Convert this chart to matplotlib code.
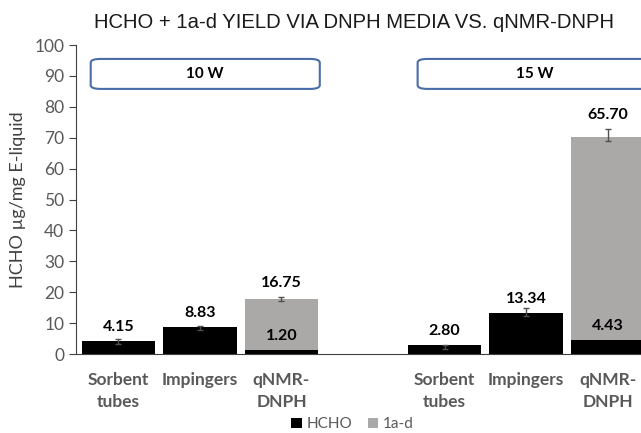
import matplotlib
matplotlib.use("Agg")
import matplotlib.pyplot as plt
from matplotlib.patches import FancyBboxPatch
import numpy as np

# data
categories = ["Sorbent\ntubes", "Impingers", "qNMR-\nDNPH",
              "Sorbent\ntubes", "Impingers", "qNMR-\nDNPH"]
positions = [0, 1, 2, 4, 5, 6]
hcho = [4.15, 8.83, 1.20, 2.80, 13.34, 4.43]
adducts = [0, 0, 16.75, 0, 0, 65.70]
err_low = [0.9, 1.0, 0.75, 1.1, 0.95, 1.2]
err_high = [0.65, 0.3, 0.55, 0.2, 1.45, 2.7]
groups = ["10 W", "15 W"]
group_span = [(-0.34, 2.47), (3.67, 6.55)]

plt.rcParams['font.family'] = ['Lato', 'DejaVu Sans']
grey = "#595959"

fig = plt.figure(figsize=(6.41, 4.33), dpi=100)
ax = fig.add_axes([0.1186, 0.1824, 0.8814, 0.7136])

x = np.array(positions)
h = np.array(hcho)
a = np.array(adducts)
tot = h + a

ax.bar(x, h, width=0.9, color="black", label="HCHO", zorder=2)
ax.bar(x, a, width=0.9, bottom=h, color="#aba8a8", label="1a-d", zorder=2)
ax.errorbar(x, tot, yerr=[err_low, err_high], fmt="none", ecolor="#505050",
            elinewidth=1, capsize=2.5, capthick=1, zorder=3)

for xi, hv, av, t, eh in zip(x, h, a, tot, err_high):
    ax.text(xi, hv + 4.5, f"{hv:.2f}", ha="center", va="center",
            fontsize=11.5, fontweight="bold", color="black")
    if av > 0:
        ax.text(xi, t + eh + 4.5, f"{av:.2f}", ha="center", va="center",
                fontsize=11.5, fontweight="bold", color="black")

for name, (x0, x1) in zip(groups, group_span):
    box = FancyBboxPatch((x0, 85.8), x1 - x0, 9.7,
                         boxstyle="round,pad=0,rounding_size=0.12",
                         mutation_aspect=10, fc="white", ec="#4a6ca8",
                         lw=1.5, clip_on=False, zorder=4)
    ax.add_patch(box)
    ax.text((x0 + x1) / 2, 90.6, name, ha="center", va="center",
            fontsize=11, fontweight="bold", color="black", zorder=5)

ax.set_xlim(-0.52, 6.41)
ax.set_ylim(0, 100)
ax.set_yticks(range(0, 101, 10))
ax.set_xticks(positions)
ax.set_xticklabels(categories, fontsize=12.5, fontweight="bold", color=grey,
                   linespacing=1.45)
ax.tick_params(axis="x", length=0, pad=13)
ax.tick_params(axis="y", labelsize=12.5, labelcolor=grey, color="#404040",
               length=5, direction="out")
for s in ["top", "right"]:
    ax.spines[s].set_visible(False)
ax.spines["left"].set_color("#404040")
ax.spines["bottom"].set_color("#404040")

ax.set_ylabel("HCHO µg/mg E-liquid", fontsize=13, color="#404040", labelpad=6)

fig.text(0.552, 0.948, "HCHO + 1a-d YIELD VIA DNPH MEDIA VS. qNMR-DNPH",
         ha="center", va="center", fontsize=14.6, color="#1a1a1a",
         family=["Liberation Sans", "DejaVu Sans"])

fig.legend(loc="center", bbox_to_anchor=(0.55, 0.02), ncol=2, frameon=False,
           fontsize=11, handlelength=0.7, handleheight=0.7,
           handletextpad=0.3, columnspacing=1.0, labelcolor=grey)

fig.savefig("out.png", dpi=100)
